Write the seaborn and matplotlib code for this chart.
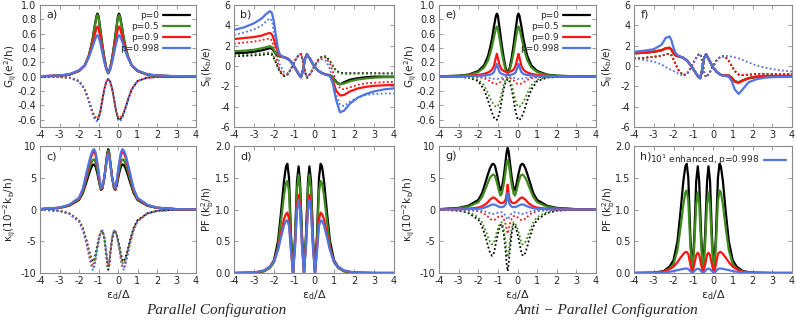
import matplotlib
matplotlib.use("Agg")
import matplotlib.pyplot as plt
import seaborn as sns

# ---- data ----
p_labels = ["p=0", "p=0.5", "p=0.9", "p=0.998"]
colors = ["#000000", "#3d8b1c", "#ff1414", "#4f74e3"]

# conductance grid (panels a, e)
x_g = [-4, -3, -2.5, -2, -1.7, -1.5, -1.4, -1.3, -1.2, -1.1, -1.05, -1.0, -0.9, -0.8, -0.7, -0.6, -0.5,
       -0.4, -0.3, -0.2, -0.1, 0.0, 0.05, 0.1, 0.2, 0.3, 0.4, 0.5, 0.7, 1.0, 1.5, 2, 3, 4]

a_black = [0.006, 0.015, 0.03, 0.08, 0.16, 0.29, 0.4, 0.53, 0.7, 0.85, 0.88, 0.85, 0.65, 0.44, 0.26, 0.12, 0.05,
           0.12, 0.26, 0.44, 0.65, 0.85, 0.88, 0.85, 0.7, 0.53, 0.4, 0.29, 0.16, 0.08, 0.03, 0.015, 0.006, 0.004]
a_green = [0.006, 0.015, 0.03, 0.08, 0.16, 0.29, 0.4, 0.52, 0.68, 0.83, 0.86, 0.83, 0.63, 0.43, 0.26, 0.12, 0.05,
           0.12, 0.26, 0.43, 0.63, 0.83, 0.86, 0.83, 0.68, 0.52, 0.4, 0.29, 0.16, 0.08, 0.03, 0.015, 0.006, 0.004]
a_red = [0.007, 0.017, 0.033, 0.085, 0.16, 0.28, 0.37, 0.47, 0.58, 0.68, 0.70, 0.68, 0.54, 0.38, 0.23, 0.11, 0.05,
         0.11, 0.23, 0.38, 0.54, 0.68, 0.70, 0.68, 0.58, 0.47, 0.37, 0.28, 0.16, 0.085, 0.033, 0.017, 0.007, 0.005]
a_blue = [0.008, 0.018, 0.035, 0.09, 0.16, 0.27, 0.34, 0.42, 0.5, 0.57, 0.58, 0.56, 0.46, 0.33, 0.2, 0.1, 0.05,
          0.1, 0.2, 0.33, 0.46, 0.56, 0.58, 0.57, 0.5, 0.42, 0.34, 0.27, 0.16, 0.09, 0.035, 0.018, 0.008, 0.005]
a_black_nl = [-0.001, -0.004, -0.012, -0.06, -0.18, -0.33, -0.42, -0.5, -0.57, -0.6, -0.6, -0.58, -0.48, -0.32, -0.17, -0.07, -0.03,
              -0.07, -0.17, -0.32, -0.48, -0.58, -0.6, -0.6, -0.57, -0.5, -0.42, -0.33, -0.18, -0.06, -0.012, -0.004, -0.001, 0.0]
a_green_nl = [-0.001, -0.004, -0.012, -0.06, -0.18, -0.33, -0.42, -0.5, -0.56, -0.59, -0.59, -0.57, -0.47, -0.31, -0.17, -0.07, -0.03,
              -0.07, -0.17, -0.31, -0.47, -0.57, -0.59, -0.59, -0.56, -0.5, -0.42, -0.33, -0.18, -0.06, -0.012, -0.004, -0.001, 0.0]
a_red_nl = [-0.001, -0.004, -0.012, -0.06, -0.17, -0.32, -0.41, -0.49, -0.55, -0.57, -0.58, -0.56, -0.47, -0.31, -0.17, -0.07, -0.03,
            -0.07, -0.17, -0.31, -0.47, -0.56, -0.58, -0.57, -0.55, -0.49, -0.41, -0.32, -0.17, -0.06, -0.012, -0.004, -0.001, 0.0]
a_blue_nl = [-0.001, -0.004, -0.012, -0.06, -0.18, -0.34, -0.43, -0.52, -0.59, -0.62, -0.62, -0.6, -0.49, -0.33, -0.17, -0.07, -0.03,
             -0.07, -0.17, -0.33, -0.49, -0.6, -0.62, -0.62, -0.59, -0.52, -0.43, -0.34, -0.18, -0.06, -0.012, -0.004, -0.001, 0.0]

e_black = a_black
e_green = [0.005, 0.012, 0.025, 0.065, 0.13, 0.23, 0.32, 0.42, 0.55, 0.67, 0.70, 0.67, 0.51, 0.34, 0.2, 0.09, 0.05,
           0.09, 0.2, 0.34, 0.51, 0.67, 0.70, 0.67, 0.55, 0.42, 0.32, 0.23, 0.13, 0.065, 0.025, 0.012, 0.005, 0.004]
e_red = [0.003, 0.007, 0.012, 0.025, 0.04, 0.06, 0.075, 0.10, 0.15, 0.27, 0.32, 0.26, 0.15, 0.10, 0.08, 0.07, 0.065,
         0.07, 0.08, 0.10, 0.15, 0.26, 0.32, 0.27, 0.15, 0.10, 0.075, 0.06, 0.04, 0.025, 0.012, 0.007, 0.003, 0.002]
e_blue = [0.002, 0.004, 0.007, 0.012, 0.018, 0.025, 0.03, 0.04, 0.065, 0.14, 0.18, 0.13, 0.06, 0.04, 0.03, 0.025, 0.025,
          0.025, 0.03, 0.04, 0.06, 0.13, 0.18, 0.14, 0.065, 0.04, 0.03, 0.025, 0.018, 0.012, 0.007, 0.004, 0.002, 0.002]
e_black_nl = a_black_nl
e_green_nl = [-0.001, -0.003, -0.008, -0.04, -0.12, -0.23, -0.3, -0.35, -0.39, -0.42, -0.42, -0.41, -0.34, -0.22, -0.11, -0.04, -0.02,
              -0.04, -0.11, -0.22, -0.34, -0.41, -0.42, -0.42, -0.39, -0.35, -0.3, -0.23, -0.12, -0.04, -0.008, -0.003, -0.001, 0.0]
e_red_nl = [0.0, -0.001, -0.002, -0.007, -0.02, -0.045, -0.06, -0.08, -0.095, -0.10, -0.10, -0.10, -0.08, -0.05, -0.03, -0.012, -0.006,
            -0.012, -0.03, -0.05, -0.08, -0.10, -0.10, -0.10, -0.095, -0.08, -0.06, -0.045, -0.02, -0.007, -0.002, -0.001, 0.0, 0.0]
e_blue_nl = [0.0, 0.0, -0.001, -0.002, -0.006, -0.013, -0.018, -0.024, -0.028, -0.03, -0.03, -0.029, -0.024, -0.015, -0.008, -0.004, -0.002,
             -0.004, -0.008, -0.015, -0.024, -0.029, -0.03, -0.03, -0.028, -0.024, -0.018, -0.013, -0.006, -0.002, -0.001, 0.0, 0.0, 0.0]

# thermopower grid (panels b, f)
x_s = [-4, -3.5, -3, -2.6, -2.4, -2.2, -2.1, -2.0, -1.9, -1.8, -1.7, -1.5, -1.3, -1.1, -0.9, -0.75, -0.65, -0.55,
       -0.45, -0.35, -0.2, 0, 0.2, 0.4, 0.6, 0.8, 0.95, 1.1, 1.3, 1.5, 1.8, 2.2, 2.6, 3, 3.5, 4]

b_black = [1.25, 1.3, 1.4, 1.55, 1.65, 1.75, 1.7, 1.45, 1.2, 1.0, 0.95, 0.88, 0.72, 0.3, -0.35, -0.85, -1.1, -0.4,
           0.7, 1.15, 0.7, 0.0, -0.45, -0.7, -0.85, -0.9, -1.15, -1.55, -1.8, -1.6, -1.35, -1.2, -1.1, -1.05, -1.05, -1.05]
b_green = [1.45, 1.5, 1.6, 1.75, 1.85, 1.95, 1.85, 1.55, 1.25, 1.05, 0.95, 0.85, 0.7, 0.3, -0.35, -0.85, -1.1, -0.4,
           0.7, 1.15, 0.7, 0.0, -0.45, -0.7, -0.85, -0.9, -1.2, -1.6, -1.8, -1.72, -1.5, -1.32, -1.22, -1.15, -1.1, -1.1]
b_red = [2.65, 2.75, 2.85, 3.0, 3.15, 3.25, 3.1, 2.6, 1.9, 1.35, 1.0, 0.85, 0.7, 0.3, -0.35, -0.85, -1.1, -0.4,
         0.7, 1.15, 0.7, 0.0, -0.45, -0.7, -0.85, -0.95, -1.5, -2.4, -2.9, -2.85, -2.5, -2.2, -2.05, -1.95, -1.9, -1.85]
b_blue = [3.55, 3.8, 4.2, 4.7, 5.1, 5.4, 5.2, 4.3, 2.9, 1.7, 1.1, 0.85, 0.7, 0.3, -0.35, -0.85, -1.1, -0.4,
          0.7, 1.15, 0.7, 0.0, -0.45, -0.7, -0.85, -1.0, -1.8, -3.3, -4.55, -4.4, -3.7, -3.1, -2.75, -2.5, -2.3, -2.2]
b_black_nl = [0.95, 1.0, 1.05, 1.1, 1.15, 1.2, 1.1, 0.75, 0.3, -0.2, -0.6, -1.0, -0.8, -0.1, 0.7, 1.1, 1.2, 0.5,
              -0.6, -1.15, -0.8, -0.1, 0.6, 0.95, 0.95, 0.5, 0.0, -0.45, -0.65, -0.7, -0.7, -0.7, -0.7, -0.7, -0.72, -0.72]
b_green_nl = [1.1, 1.15, 1.2, 1.25, 1.3, 1.35, 1.25, 0.85, 0.35, -0.15, -0.55, -0.95, -0.8, -0.1, 0.7, 1.1, 1.2, 0.5,
              -0.6, -1.15, -0.8, -0.1, 0.55, 0.88, 0.88, 0.45, -0.05, -0.5, -0.72, -0.78, -0.78, -0.77, -0.76, -0.76, -0.76, -0.76]
b_red_nl = [2.2, 2.3, 2.4, 2.55, 2.65, 2.7, 2.5, 1.8, 1.0, 0.2, -0.4, -0.9, -0.8, -0.1, 0.7, 1.1, 1.2, 0.5,
            -0.6, -1.15, -0.8, -0.1, 0.55, 0.85, 0.8, 0.2, -0.6, -1.5, -2.2, -2.3, -2.1, -1.85, -1.7, -1.65, -1.6, -1.55]
b_blue_nl = [3.05, 3.3, 3.6, 4.0, 4.4, 4.7, 4.4, 3.3, 2.0, 0.9, 0.1, -0.6, -0.7, -0.1, 0.65, 1.05, 1.15, 0.5,
             -0.6, -1.1, -0.8, -0.15, 0.4, 0.65, 0.5, -0.3, -1.4, -2.8, -3.8, -3.95, -3.5, -3.1, -2.85, -2.75, -2.7, -2.7]

f_black = [1.25, 1.3, 1.4, 1.55, 1.72, 1.78, 1.6, 1.25, 1.05, 0.98, 0.93, 0.8, 0.5, 0.0, -0.6, -1.05, -1.2, -0.4,
           0.8, 1.15, 0.6, -0.15, -0.6, -0.88, -0.95, -0.95, -1.15, -1.5, -1.6, -1.42, -1.2, -1.07, -1.03, -1.02, -1.02, -1.02]
f_green = [1.26, 1.31, 1.41, 1.56, 1.73, 1.79, 1.6, 1.25, 1.05, 0.98, 0.93, 0.8, 0.5, 0.0, -0.6, -1.05, -1.2, -0.4,
           0.8, 1.15, 0.6, -0.15, -0.6, -0.88, -0.95, -0.95, -1.17, -1.52, -1.62, -1.43, -1.2, -1.06, -1.02, -1.0, -1.0, -1.0]
f_red = [1.25, 1.3, 1.4, 1.55, 1.75, 1.8, 1.6, 1.25, 1.05, 0.98, 0.93, 0.8, 0.5, 0.0, -0.6, -1.05, -1.2, -0.4,
         0.8, 1.15, 0.6, -0.15, -0.6, -0.88, -0.95, -0.95, -1.2, -1.55, -1.65, -1.45, -1.2, -1.05, -1.0, -0.97, -0.95, -0.95]
f_blue = [1.4, 1.5, 1.65, 2.1, 2.75, 2.9, 2.5, 1.8, 1.3, 1.08, 0.97, 0.8, 0.5, 0.0, -0.6, -1.05, -1.2, -0.4,
          0.8, 1.15, 0.6, -0.15, -0.6, -0.9, -0.98, -1.05, -1.5, -2.3, -2.75, -2.3, -1.6, -1.3, -1.15, -1.1, -1.08, -1.07]
f_black_nl = [0.75, 0.8, 0.9, 1.0, 1.15, 1.2, 1.05, 0.65, 0.2, -0.2, -0.55, -0.9, -0.75, -0.1, 0.65, 1.1, 1.2, 0.5,
              -0.6, -1.1, -0.75, -0.05, 0.6, 0.95, 0.95, 0.5, 0.0, -0.5, -0.85, -0.9, -0.85, -0.8, -0.78, -0.78, -0.78, -0.78]
f_green_nl = f_black_nl
f_red_nl = [0.75, 0.8, 0.9, 1.0, 1.15, 1.2, 1.05, 0.65, 0.2, -0.2, -0.55, -0.9, -0.75, -0.1, 0.65, 1.1, 1.2, 0.5,
            -0.6, -1.1, -0.75, -0.05, 0.6, 0.95, 0.95, 0.5, 0.0, -0.5, -0.85, -0.9, -0.85, -0.8, -0.78, -0.78, -0.78, -0.78]
f_blue_nl = [0.75, 0.6, 0.43, 0.15, -0.1, -0.3, -0.4, -0.5, -0.6, -0.7, -0.8, -1.0, -0.8, -0.1, 0.65, 1.1, 1.2, 0.5,
             -0.6, -1.1, -0.75, -0.05, 0.6, 0.95, 1.0, 0.97, 0.92, 0.85, 0.75, 0.6, 0.35, 0.05, -0.15, -0.3, -0.45, -0.55]

# thermal conductance grid (panels c, g)
x_k = [-4, -3, -2.5, -2, -1.8, -1.6, -1.5, -1.4, -1.3, -1.23, -1.15, -1.05, -0.95, -0.87, -0.8, -0.7, -0.6, -0.55, -0.5,
       -0.45, -0.4, -0.3, -0.2, -0.13, -0.05, 0.05, 0.15, 0.23, 0.3, 0.4, 0.5, 0.6, 0.8, 1.0, 1.5, 2, 3, 4]

c_black = [0.05, 0.25, 0.6, 1.5, 2.6, 4.5, 5.5, 6.4, 7.0, 7.1, 6.8, 5.6, 4.0, 3.1, 3.3, 5.0, 7.6, 8.9, 9.5,
           8.9, 7.6, 5.0, 3.3, 3.1, 4.0, 5.6, 6.8, 7.1, 7.0, 6.4, 5.5, 4.5, 2.6, 1.5, 0.6, 0.25, 0.05, 0.02]
c_green = [0.05, 0.25, 0.65, 1.6, 2.8, 5.0, 6.1, 7.1, 7.8, 7.9, 7.5, 6.1, 4.3, 3.2, 3.4, 5.0, 7.5, 8.7, 9.3,
           8.7, 7.5, 5.0, 3.4, 3.2, 4.3, 6.1, 7.5, 7.9, 7.8, 7.1, 6.1, 5.0, 2.8, 1.6, 0.65, 0.25, 0.05, 0.02]
c_red = [0.06, 0.28, 0.7, 1.75, 3.1, 5.6, 6.9, 8.1, 8.9, 9.1, 8.6, 6.9, 4.7, 3.3, 3.5, 5.0, 7.3, 8.5, 9.0,
         8.5, 7.3, 5.0, 3.5, 3.3, 4.7, 6.9, 8.6, 9.1, 8.9, 8.1, 6.9, 5.6, 3.1, 1.75, 0.7, 0.28, 0.06, 0.02]
c_blue = [0.06, 0.3, 0.75, 1.85, 3.3, 6.0, 7.3, 8.5, 9.3, 9.5, 9.0, 7.2, 4.9, 3.4, 3.6, 5.0, 7.2, 8.3, 8.8,
          8.3, 7.2, 5.0, 3.6, 3.4, 4.9, 7.2, 9.0, 9.5, 9.3, 8.5, 7.3, 6.0, 3.3, 1.85, 0.75, 0.3, 0.06, 0.02]
c_black_nl = [-0.03, -0.2, -0.6, -1.7, -2.9, -5.0, -6.3, -7.4, -8.2, -8.0, -7.0, -5.4, -4.1, -3.5, -3.3, -4.6, -7.2, -8.8, -9.5,
              -8.8, -7.2, -4.6, -3.3, -3.5, -4.1, -5.4, -7.0, -8.0, -8.2, -7.4, -6.3, -5.0, -2.9, -1.7, -0.6, -0.2, -0.03, -0.01]
c_green_nl = [-0.03, -0.21, -0.62, -1.75, -3.0, -5.2, -6.5, -7.7, -8.6, -8.4, -7.3, -5.6, -4.2, -3.5, -3.3, -4.5, -7.0, -8.6, -9.2,
              -8.6, -7.0, -4.5, -3.3, -3.5, -4.2, -5.6, -7.3, -8.4, -8.6, -7.7, -6.5, -5.2, -3.0, -1.75, -0.62, -0.21, -0.03, -0.01]
c_red_nl = [-0.03, -0.22, -0.65, -1.85, -3.2, -5.5, -6.9, -8.2, -9.2, -9.0, -7.8, -5.9, -4.3, -3.5, -3.3, -4.4, -6.8, -8.3, -8.8,
            -8.3, -6.8, -4.4, -3.3, -3.5, -4.3, -5.9, -7.8, -9.0, -9.2, -8.2, -6.9, -5.5, -3.2, -1.85, -0.65, -0.22, -0.03, -0.01]
c_blue_nl = [-0.03, -0.23, -0.68, -1.9, -3.3, -5.7, -7.1, -8.5, -9.5, -9.3, -8.0, -6.0, -4.3, -3.5, -3.3, -4.3, -6.6, -8.0, -8.5,
             -8.0, -6.6, -4.3, -3.3, -3.5, -4.3, -6.0, -8.0, -9.3, -9.5, -8.5, -7.1, -5.7, -3.3, -1.9, -0.68, -0.23, -0.03, -0.01]

g_black = [0.05, 0.25, 0.6, 1.5, 2.6, 4.6, 5.6, 6.5, 7.1, 7.2, 6.9, 5.6, 4.0, 3.0, 3.3, 5.2, 7.8, 9.1, 9.7,
           9.1, 7.8, 5.2, 3.3, 3.0, 4.0, 5.6, 6.9, 7.2, 7.1, 6.5, 5.6, 4.6, 2.6, 1.5, 0.6, 0.25, 0.05, 0.02]
g_green = [0.04, 0.19, 0.45, 1.15, 2.0, 3.5, 4.3, 5.0, 5.4, 5.5, 5.3, 4.3, 3.0, 2.2, 2.5, 4.0, 6.2, 7.3, 7.8,
           7.3, 6.2, 4.0, 2.5, 2.2, 3.0, 4.3, 5.3, 5.5, 5.4, 5.0, 4.3, 3.5, 2.0, 1.15, 0.45, 0.19, 0.04, 0.01]
g_red = [0.01, 0.05, 0.12, 0.3, 0.5, 0.9, 1.2, 1.55, 1.8, 1.9, 1.8, 1.5, 1.2, 1.05, 1.0, 1.1, 1.6, 2.5, 3.9,
         2.5, 1.6, 1.1, 1.0, 1.05, 1.2, 1.5, 1.8, 1.9, 1.8, 1.55, 1.2, 0.9, 0.5, 0.3, 0.12, 0.05, 0.01, 0.005]
g_blue = [0.005, 0.02, 0.05, 0.12, 0.2, 0.38, 0.5, 0.65, 0.77, 0.8, 0.75, 0.6, 0.45, 0.38, 0.37, 0.45, 0.8, 1.5, 2.6,
          1.5, 0.8, 0.45, 0.37, 0.38, 0.45, 0.6, 0.75, 0.8, 0.77, 0.65, 0.5, 0.38, 0.2, 0.12, 0.05, 0.02, 0.005, 0.002]
g_black_nl = [-0.03, -0.2, -0.55, -1.6, -2.7, -4.6, -5.8, -6.8, -7.3, -7.1, -6.1, -4.5, -3.2, -2.5, -2.3, -3.8, -6.8, -8.6, -9.7,
              -8.6, -6.8, -3.8, -2.3, -2.5, -3.2, -4.5, -6.1, -7.1, -7.3, -6.8, -5.8, -4.6, -2.7, -1.6, -0.55, -0.2, -0.03, -0.01]
g_green_nl = [-0.02, -0.14, -0.4, -1.2, -2.05, -3.5, -4.4, -5.1, -5.5, -5.4, -4.7, -3.5, -2.6, -2.1, -2.0, -3.1, -5.3, -6.7, -7.5,
              -6.7, -5.3, -3.1, -2.0, -2.1, -2.6, -3.5, -4.7, -5.4, -5.5, -5.1, -4.4, -3.5, -2.05, -1.2, -0.4, -0.14, -0.02, -0.01]
g_red_nl = [-0.005, -0.03, -0.09, -0.27, -0.45, -0.85, -1.15, -1.45, -1.65, -1.7, -1.6, -1.35, -1.1, -1.0, -1.05, -1.5, -2.4, -3.2, -3.8,
            -3.2, -2.4, -1.5, -1.05, -1.0, -1.1, -1.35, -1.6, -1.7, -1.65, -1.45, -1.15, -0.85, -0.45, -0.27, -0.09, -0.03, -0.005, -0.002]
g_blue_nl = [-0.002, -0.012, -0.04, -0.11, -0.19, -0.36, -0.48, -0.6, -0.69, -0.7, -0.66, -0.56, -0.46, -0.42, -0.44, -0.63, -1.0, -1.35, -1.6,
             -1.35, -1.0, -0.63, -0.44, -0.42, -0.46, -0.56, -0.66, -0.7, -0.69, -0.6, -0.48, -0.36, -0.19, -0.11, -0.04, -0.012, -0.002, -0.001]

# power factor grid (panels d, h)
x_pf = [-4, -3, -2.5, -2.2, -2, -1.8, -1.65, -1.5, -1.4, -1.33, -1.25, -1.15, -1.05, -0.95, -0.85, -0.77, -0.7, -0.6, -0.5,
        -0.4, -0.3, -0.23, -0.15, -0.05, 0.05, 0.15, 0.25, 0.33, 0.4, 0.5, 0.65, 0.8, 1.0, 1.2, 1.5, 2, 3, 4]

d_black = [0.0, 0.005, 0.03, 0.1, 0.2, 0.5, 0.95, 1.45, 1.68, 1.72, 1.5, 0.6, 0.0, 0.55, 1.45, 1.68, 1.45, 0.6, 0.0,
           0.6, 1.45, 1.68, 1.45, 0.55, 0.0, 0.6, 1.5, 1.72, 1.68, 1.45, 0.95, 0.5, 0.2, 0.1, 0.03, 0.005, 0.0, 0.0]
d_green = [0.0, 0.004, 0.025, 0.08, 0.17, 0.42, 0.82, 1.22, 1.42, 1.45, 1.28, 0.52, 0.0, 0.5, 1.32, 1.55, 1.35, 0.55, 0.0,
           0.55, 1.35, 1.55, 1.32, 0.5, 0.0, 0.52, 1.28, 1.45, 1.42, 1.22, 0.82, 0.42, 0.17, 0.08, 0.025, 0.004, 0.0, 0.0]
d_red = [0.0, 0.006, 0.035, 0.1, 0.18, 0.38, 0.62, 0.85, 0.93, 0.95, 0.85, 0.38, 0.0, 0.42, 1.05, 1.23, 1.08, 0.45, 0.0,
         0.45, 1.08, 1.23, 1.05, 0.42, 0.0, 0.38, 0.85, 0.95, 0.93, 0.85, 0.62, 0.38, 0.18, 0.1, 0.035, 0.006, 0.0, 0.0]
d_blue = [0.0, 0.007, 0.04, 0.1, 0.18, 0.36, 0.56, 0.75, 0.82, 0.83, 0.74, 0.33, 0.0, 0.4, 0.98, 1.15, 1.0, 0.42, 0.0,
          0.42, 1.0, 1.15, 0.98, 0.4, 0.0, 0.33, 0.74, 0.83, 0.82, 0.75, 0.56, 0.36, 0.18, 0.1, 0.04, 0.007, 0.0, 0.0]

h_black = d_black
h_green = [0.0, 0.004, 0.02, 0.07, 0.14, 0.36, 0.7, 1.08, 1.27, 1.3, 1.13, 0.45, 0.0, 0.42, 1.08, 1.27, 1.1, 0.45, 0.0,
           0.45, 1.1, 1.27, 1.08, 0.42, 0.0, 0.45, 1.13, 1.3, 1.27, 1.08, 0.7, 0.36, 0.14, 0.07, 0.02, 0.004, 0.0, 0.0]
h_red = [0.0, 0.003, 0.02, 0.06, 0.1, 0.17, 0.24, 0.3, 0.33, 0.33, 0.3, 0.14, 0.0, 0.13, 0.28, 0.32, 0.29, 0.13, 0.0,
         0.13, 0.29, 0.32, 0.28, 0.13, 0.0, 0.14, 0.3, 0.33, 0.33, 0.3, 0.24, 0.17, 0.1, 0.06, 0.02, 0.003, 0.0, 0.0]
h_blue = [0.0, 0.002, 0.01, 0.02, 0.03, 0.045, 0.055, 0.065, 0.07, 0.07, 0.063, 0.03, 0.0, 0.03, 0.06, 0.068, 0.062, 0.03, 0.0,
          0.03, 0.062, 0.068, 0.06, 0.03, 0.0, 0.03, 0.063, 0.07, 0.07, 0.065, 0.055, 0.045, 0.03, 0.02, 0.01, 0.002, 0.0, 0.0]

# ---- style ----
sns.set_style("ticks")
plt.rcParams["font.family"] = ["DejaVu Sans"]
plt.rcParams["axes.unicode_minus"] = False
plt.rcParams["mathtext.default"] = "regular"

W, H = 796, 320
fig = plt.figure(figsize=(W / 100, H / 100), dpi=100)


def make_axes(left, top, width, height):
    return fig.add_axes([left / W, 1 - (top + height) / H, width / W, height / H])


def draw(ax, x, solid, dotted, ylim, yticks, ylabel, tag, label_x, xlabel=False):
    for y, c in zip(dotted, colors):
        sns.lineplot(x=x, y=y, color=c, lw=1.3, linestyle=(0, (1, 1.3)), ax=ax,
                     estimator=None, sort=False)
    for y, c, lab in zip(solid, colors, p_labels):
        sns.lineplot(x=x, y=y, color=c, lw=1.6, ax=ax, estimator=None, sort=False, label=lab)
    if ax.get_legend() is not None:
        ax.get_legend().remove()
    ax.set_xlim(-4, 4)
    ax.set_ylim(*ylim)
    ax.set_xticks(range(-4, 5))
    ax.set_yticks(yticks)
    ax.set_ylabel(ylabel, fontsize=7.5)
    ax.yaxis.set_label_coords(label_x, 0.5)
    ax.set_xlabel("ε$_{d}$/Δ" if xlabel else "", fontsize=8, labelpad=1)
    ax.tick_params(direction="in", top=True, right=True, length=3, width=0.6,
                   color="#8a8a8a", labelsize=7, pad=2.5)
    for s in ax.spines.values():
        s.set_color("#8a8a8a")
        s.set_linewidth(0.8)
    ax.text(0.04, 0.92, tag, transform=ax.transAxes, fontsize=8, va="center")


g_ticks = [-0.6, -0.4, -0.2, 0.0, 0.2, 0.4, 0.6, 0.8, 1.0]
s_ticks = [-6, -4, -2, 0, 2, 4, 6]
k_ticks = [-10, -5, 0, 5, 10]
pf_ticks = [0.0, 0.5, 1.0, 1.5, 2.0]

lab_g = "G$_{ij}$(e$^{2}$/h)"
lab_s = "S$_{ij}$(k$_{b}$/e)"
lab_k = "κ$_{ij}$(10$^{-2}$k$_{b}$/h)"
lab_pf = "PF (k$_{b}^{2}$/h)"

ax_a = make_axes(40, 5, 156, 122)
ax_b = make_axes(234, 5, 160, 122)
ax_e = make_axes(439, 5, 157, 122)
ax_f = make_axes(634, 5, 158, 122)
ax_c = make_axes(40, 146, 156, 127)
ax_d = make_axes(234, 146, 160, 127)
ax_g = make_axes(439, 146, 157, 127)
ax_h = make_axes(634, 146, 158, 127)

draw(ax_a, x_g, [a_black, a_green, a_red, a_blue], [a_black_nl, a_green_nl, a_red_nl, a_blue_nl],
     (-0.7, 1.0), g_ticks, lab_g, "a)", -0.135)
draw(ax_b, x_s, [b_black, b_green, b_red, b_blue], [b_black_nl, b_green_nl, b_red_nl, b_blue_nl],
     (-6, 6), s_ticks, lab_s, "b)", -0.12)
draw(ax_c, x_k, [c_black, c_green, c_red, c_blue], [c_black_nl, c_green_nl, c_red_nl, c_blue_nl],
     (-10, 10), k_ticks, lab_k, "c)", -0.14, xlabel=True)
draw(ax_d, x_pf, [d_black, d_green, d_red, d_blue], [],
     (0, 2), pf_ticks, lab_pf, "d)", -0.11, xlabel=True)
draw(ax_e, x_g, [e_black, e_green, e_red, e_blue], [e_black_nl, e_green_nl, e_red_nl, e_blue_nl],
     (-0.7, 1.0), g_ticks, lab_g, "e)", -0.13)
draw(ax_f, x_s, [f_black, f_green, f_red, f_blue], [f_black_nl, f_green_nl, f_red_nl, f_blue_nl],
     (-6, 6), s_ticks, lab_s, "f)", -0.12)
draw(ax_g, x_k, [g_black, g_green, g_red, g_blue], [g_black_nl, g_green_nl, g_red_nl, g_blue_nl],
     (-10, 10), k_ticks, lab_k, "g)", -0.14, xlabel=True)
draw(ax_h, x_pf, [h_black, h_green, h_red, h_blue], [],
     (0, 2), pf_ticks, lab_pf, "h)", -0.11, xlabel=True)

for ax in (ax_a, ax_e):
    handles, labels = ax.get_legend_handles_labels()
    ax.legend(handles, labels, loc="upper right", frameon=False, markerfirst=False,
              fontsize=6.5, handlelength=3.0, handletextpad=0.4, labelspacing=0.2,
              borderaxespad=0.3)

handles, labels = ax_h.get_legend_handles_labels()
ax_h.legend([handles[3]], ["10$^{1}$ enhanced, p=0.998"], loc="upper right", frameon=False,
            markerfirst=False, fontsize=6.5, handlelength=2.4, handletextpad=0.5,
            borderaxespad=0.3)

fig.text(0.272, 0.032, "Parallel Configuration", ha="center", va="center",
         fontsize=11, style="italic", family="Liberation Serif")
fig.text(0.762, 0.032, "Anti − Parallel Configuration", ha="center", va="center",
         fontsize=11, style="italic", family="Liberation Serif")

fig.savefig("out.png", dpi=100)
